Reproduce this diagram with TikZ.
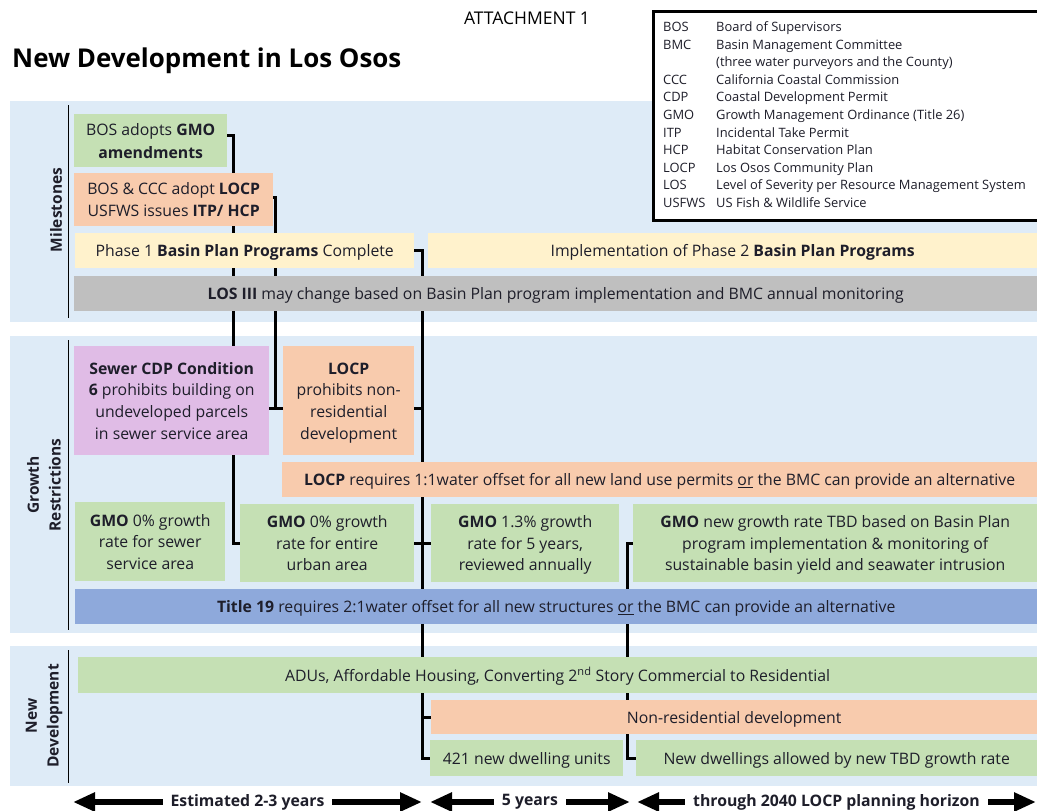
\documentclass[tikz,border=0pt]{standalone}
\usepackage{fontspec}
\setmainfont{Open Sans}
\usetikzlibrary{arrows.meta,calc}
\pgfdeclarelayer{bg}
\pgfdeclarelayer{links}
\pgfsetlayers{bg,links,main}
\definecolor{bandbg}{HTML}{DEEBF7}
\definecolor{cgreen}{HTML}{C5E0B4}
\definecolor{corange}{HTML}{F8CBAD}
\definecolor{cyellow}{HTML}{FFF2CC}
\definecolor{cgray}{HTML}{BFBFBF}
\definecolor{cpurple}{HTML}{E0BCE6}
\definecolor{cblue}{HTML}{8EA9DB}
\definecolor{ink}{HTML}{1E1E2A}
\newcommand{\topstrut}{\rule{0pt}{16pt}}
\newcommand{\botstrut}{\rule[-4pt]{0pt}{4pt}}
\tikzset{
 box/.style={anchor=north west, inner sep=0pt, align=center, text=ink, font=\fontsize{15.8}{21.7}\selectfont},
 band/.style={anchor=north west, fill=bandbg, inner sep=0pt},
 link/.style={line width=3pt, black},
 divider/.style={line width=1pt, black},
 span/.style={line width=6pt, {Triangle[length=22pt,width=18pt]}-{Triangle[length=22pt,width=18pt]}},
 spanlabel/.style={fill=white, inner xsep=8pt, inner ysep=0pt, font=\bfseries\fontsize{15.8}{18}\selectfont, text=ink},
 sidelabel/.style={rotate=90, align=center, text=ink, font=\bfseries\fontsize{15.5}{21.7}\selectfont},
}
\begin{document}
\begin{tikzpicture}[x=1pt,y=-1pt]
\useasboundingbox (0,0) rectangle (1037,811);
\clip (0,0) rectangle (1037,811);

% bands
\begin{pgfonlayer}{bg}
\fill[white] (0,0) rectangle (1037,811);
\node[band, minimum width=1027pt, minimum height=221pt] (bandM) at (10,101) {};
\node[band, minimum width=1027pt, minimum height=297pt] (bandG) at (10,336) {};
\node[band, minimum width=1027pt, minimum height=140pt] (bandN) at (10,646) {};
\end{pgfonlayer}

% title
\node[anchor=base west, inner sep=0pt, font=\bfseries\fontsize{25.9}{30}\selectfont] (title) at (12,67) {New Development in Los Osos};
\node[font=\fontsize{17.5}{20}\selectfont] (att) at (527,18) {ATTACHMENT 1};

\draw[divider] (68,105) -- (68,318);
\draw[divider] (68,340) -- (68,630);
\draw[divider] (68,650) -- (68,783);
\node[sidelabel] (lblM) at (56,210) {Milestones};
\node[sidelabel] (lblG) at (44,485) {Growth\\Restrictions};
\node[sidelabel] (lblN) at (44,716) {New\\Development};

% milestones
\node[box, fill=cgreen, minimum width=153pt, minimum height=53pt] (gmoA) at (74,114) {\topstrut BOS adopts \textbf{GMO}\\[1pt]\textbf{amendments}\botstrut};
\node[box, fill=corange, minimum width=199pt, minimum height=53pt] (adopt) at (74,173) {\topstrut BOS \& CCC adopt \textbf{LOCP}\\USFWS issues \textbf{ITP/ HCP}\botstrut};
\node[box, fill=cyellow, minimum width=339pt, minimum height=35pt] (ph1) at (75,233) {\topstrut Phase 1 \textbf{Basin Plan Programs} Complete\botstrut};
\node[box, fill=cyellow, minimum width=609pt, minimum height=35pt] (ph2) at (428,233) {\topstrut Implementation of Phase 2 \textbf{Basin Plan Programs}\botstrut};
\node[box, fill=cgray, minimum width=963pt, minimum height=35pt] (los) at (74,276) {\topstrut\textbf{LOS III} may change based on Basin Plan program implementation and BMC annual monitoring\botstrut};

% growth restrictions
\node[box, fill=cpurple, minimum width=195pt, minimum height=109pt] (sewer) at (74,346) {\topstrut\textbf{Sewer CDP Condition}\\\textbf{6} prohibits building on\\undeveloped parcels\\in sewer service area\botstrut};
\node[box, fill=corange, minimum width=131pt, minimum height=109pt] (locpP) at (283,346) {\topstrut\textbf{LOCP}\\prohibits non-\\residential\\development\botstrut};
\node[box, fill=corange, minimum width=755pt, minimum height=35pt] (offset1) at (282,462) {\topstrut\textbf{LOCP} requires 1:1water offset for all new land use permits \underline{or} the BMC can provide an alternative\botstrut};
\node[box, fill=cgreen, minimum width=150pt, minimum height=79pt] (gmo0s) at (75,502) {\topstrut\textbf{GMO} 0\% growth\\rate for sewer\\service area\botstrut};
\node[box, fill=cgreen, minimum width=174pt, minimum height=78pt] (gmo0u) at (240,504) {\topstrut\textbf{GMO} 0\% growth\\rate for entire\\urban area\botstrut};
\node[box, fill=cgreen, minimum width=188pt, minimum height=78pt] (gmo13) at (431,504) {\topstrut\textbf{GMO} 1.3\% growth\\rate for 5 years,\\reviewed annually\botstrut};
\node[box, fill=cgreen, minimum width=404pt, minimum height=78pt] (gmoN) at (633,504) {\topstrut\textbf{GMO} new growth rate TBD based on Basin Plan\\program implementation \& monitoring of\\sustainable basin yield and seawater intrusion\botstrut};
\node[box, fill=cblue, minimum width=962pt, minimum height=35pt] (t19) at (75,589) {\topstrut\textbf{Title 19} requires 2:1water offset for all new structures \underline{or} the BMC can provide an alternative\botstrut};

% new development
\node[box, fill=cgreen, minimum width=959pt, minimum height=36pt] (adu) at (78,657) {\topstrut ADUs, Affordable Housing, Converting 2\textsuperscript{nd} Story Commercial to Residential\botstrut};
\node[box, fill=corange, minimum width=606pt, minimum height=34pt] (nonres) at (431,700) {\topstrut Non-residential development\botstrut};
\node[box, fill=cgreen, minimum width=193pt, minimum height=36pt] (dw421) at (430,740) {\topstrut 421 new dwelling units\botstrut};
\node[box, fill=cgreen, minimum width=401pt, minimum height=36pt] (dwN) at (636,740) {\topstrut New dwellings allowed by new TBD growth rate\botstrut};

% connectors
\begin{pgfonlayer}{links}
\draw[link] ([yshift=5pt]gmoA.east) -| ($(gmo0u.west)+(-7,0)$) -- (gmo0u.west);
\draw[link] ([yshift=2pt]adopt.east) -| ($([yshift=-7.5pt]sewer.east)+(6,0)$);
\draw[link] ([yshift=-7.5pt]sewer.east) -- ([yshift=-7.5pt]locpP.west);
\draw[link] (ph1.east) -| ($(dw421.west)+(-8,0)$) -- (dw421.west);
\draw[link] ([yshift=-7.5pt]locpP.east) -- +(8,0);
\draw[link] (gmo0u.east) -- (gmo13.west);
\draw[link] (nonres.west) -- +(-9,0);
\draw[link] (gmoN.west) -| ($(dwN.west)+(-9,0)$) -- (dwN.west);
\end{pgfonlayer}

% legend
\node[draw=black, line width=3pt, fill=white, anchor=north west, inner sep=0pt, minimum width=395pt, minimum height=209pt] (legend) at (651.5,9.5) {};
\node[anchor=north west, inner sep=0pt, text=ink, font=\fontsize{12.9}{17.6}\selectfont] (legendtext) at (663,19) {%
\begin{tabular}{@{}p{53pt}@{}l@{}}
BOS & Board of Supervisors\\
BMC & Basin Management Committee\\
 & (three water purveyors and the County)\\
CCC & California Coastal Commission\\
CDP & Coastal Development Permit\\
GMO & Growth Management Ordinance (Title 26)\\
ITP & Incidental Take Permit\\
HCP & Habitat Conservation Plan\\
LOCP & Los Osos Community Plan\\
LOS & Level of Severity per Resource Management System\\
USFWS & US Fish \& Wildlife Service
\end{tabular}};

% time spans
\coordinate (s1a) at (73,802);
\coordinate (s1b) at (422,802);
\coordinate (s2a) at (430,802);
\coordinate (s2b) at (630,802);
\coordinate (s3a) at (637,802);
\coordinate (s3b) at (1036,802);
\draw[span] (s1a) -- (s1b) node[midway, spanlabel] (lab1) {Estimated 2-3 years};
\draw[span] (s2a) -- (s2b) node[midway, spanlabel] (lab2) {5 years};
\draw[span] (s3a) -- (s3b) node[midway, spanlabel] (lab3) {through 2040 LOCP planning horizon};
\end{tikzpicture}
\end{document}
